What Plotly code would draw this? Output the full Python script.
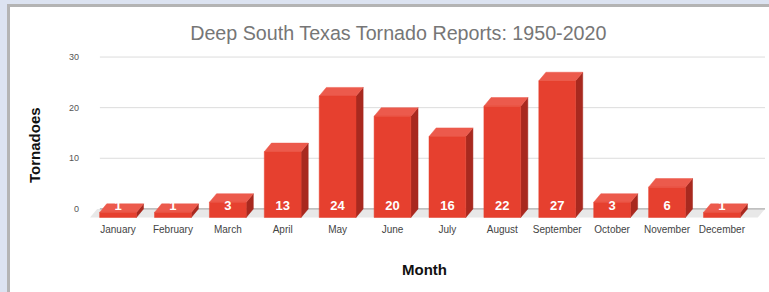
import plotly.graph_objects as go

months = ["January", "February", "March", "April", "May", "June", "July",
          "August", "September", "October", "November", "December"]
tornadoes = [1, 1, 3, 13, 24, 20, 16, 22, 27, 3, 6, 1]
y_ticks = [0, 10, 20, 30]

# 3D look parameters (depth offset in data units)
W = 0.67      # bar width (categories)
DX = 0.13     # depth offset, x (categories)
DY = 1.7      # depth offset, y (value units)

FRONT = "#e6402f"
TOP = "#ec5a4c"
SIDE = "#a8291f"

xs = list(range(len(months)))

fig = go.Figure()

# floor
XL, XR = -0.51, 11.785
fig.add_trace(go.Scatter(
    x=[XL, XR - DX, XR, XL + DX, XL],
    y=[-DY, -DY, 0, 0, -DY],
    fill="toself", fillcolor="#e8e8e8", mode="none",
    hoverinfo="skip", showlegend=False))

# gridlines on back wall
for t in y_ticks:
    fig.add_trace(go.Scatter(
        x=[-0.33, XR], y=[t, t], mode="lines",
        line=dict(color="#9a9a9a" if t == 0 else "#dcdcdc", width=1),
        hoverinfo="skip", showlegend=False))


def poly_trace(px, py, color):
    return go.Scatter(x=px, y=py, fill="toself", fillcolor=color,
                      mode="lines", line=dict(width=0.5, color=color),
                      hoverinfo="skip", showlegend=False)


# side faces
sx, sy = [], []
for i, v in zip(xs, tornadoes):
    r = i + W / 2
    sx += [r, r + DX, r + DX, r, r, None]
    sy += [-DY, 0, v, v - DY, -DY, None]
fig.add_trace(poly_trace(sx, sy, SIDE))

# top faces
tx, ty = [], []
for i, v in zip(xs, tornadoes):
    l, r = i - W / 2, i + W / 2
    tx += [l, r, r + DX, l + DX, l, None]
    ty += [v - DY, v - DY, v, v, v - DY, None]
fig.add_trace(poly_trace(tx, ty, TOP))

# front faces
fx, fy = [], []
for i, v in zip(xs, tornadoes):
    l, r = i - W / 2, i + W / 2
    fx += [l, r, r, l, l, None]
    fy += [-DY, -DY, v - DY, v - DY, -DY, None]
fig.add_trace(poly_trace(fx, fy, FRONT))

# data labels
fig.add_trace(go.Scatter(
    x=xs, y=[0.5] * len(xs), mode="text",
    text=[str(v) for v in tornadoes],
    textfont=dict(family="Liberation Sans, Arial", size=13, color="white",
                  weight="bold"),
    hoverinfo="skip", showlegend=False))

fig.update_layout(
    width=769, height=292,
    margin=dict(l=90, r=4, t=52, b=74),
    paper_bgcolor="white", plot_bgcolor="rgba(0,0,0,0)",
    title=dict(text="Deep South Texas Tornado Reports: 1950-2020",
               x=0.518, xanchor="center", y=0.885, yanchor="middle",
               font=dict(family="Liberation Sans, Arial", size=19.7,
                         color="#767676")),
    xaxis=dict(range=[XL, XR], tickmode="array", tickvals=xs, ticktext=months,
               showgrid=False, zeroline=False, showline=False,
               ticks="", ticklabelstandoff=4,
               tickfont=dict(family="Liberation Sans, Arial", size=10,
                             color="#444444")),
    yaxis=dict(range=[-1.8, 31], tickmode="array", tickvals=y_ticks,
               showgrid=False, zeroline=False, showline=False,
               ticks="", ticklabelstandoff=10,
               tickfont=dict(family="Liberation Sans, Arial", size=9,
                             color="#555555")),
    annotations=[
        dict(text="<b>Tornadoes</b>", xref="paper", yref="paper",
             x=-0.0815, y=0.44, textangle=-90, showarrow=False,
             xanchor="center", yanchor="middle",
             font=dict(family="Liberation Sans, Arial", size=15,
                       color="#111111")),
        dict(text="<b>Month</b>", xref="paper", yref="paper",
             x=0.496, y=-0.313, showarrow=False,
             xanchor="center", yanchor="middle",
             font=dict(family="Liberation Sans, Arial", size=15,
                       color="#111111")),
    ],
    shapes=[
        # outer frame: light blue strips and grey border
        dict(type="rect", xref="paper", yref="paper",
             x0=-90 / 675, x1=-80 / 675, y0=-74 / 166, y1=(166 + 52) / 166,
             fillcolor="#b4b4b4", line=dict(width=0), layer="above"),
        dict(type="rect", xref="paper", yref="paper",
             x0=-90 / 675, x1=(675 + 4) / 675, y0=(166 + 45) / 166,
             y1=(166 + 52) / 166,
             fillcolor="#b4b4b4", line=dict(width=0), layer="above"),
        dict(type="rect", xref="paper", yref="paper",
             x0=-90 / 675, x1=-83 / 675, y0=-74 / 166, y1=(166 + 52) / 166,
             fillcolor="#dce3f1", line=dict(width=0), layer="above"),
        dict(type="rect", xref="paper", yref="paper",
             x0=-90 / 675, x1=(675 + 4) / 675, y0=(166 + 48) / 166,
             y1=(166 + 52) / 166,
             fillcolor="#dce3f1", line=dict(width=0), layer="above"),
    ],
)

fig.write_html("out.html",
               config={"displayModeBar": False},
               post_script="document.body.style.margin='0';"
                           "document.body.style.overflow='hidden';")
